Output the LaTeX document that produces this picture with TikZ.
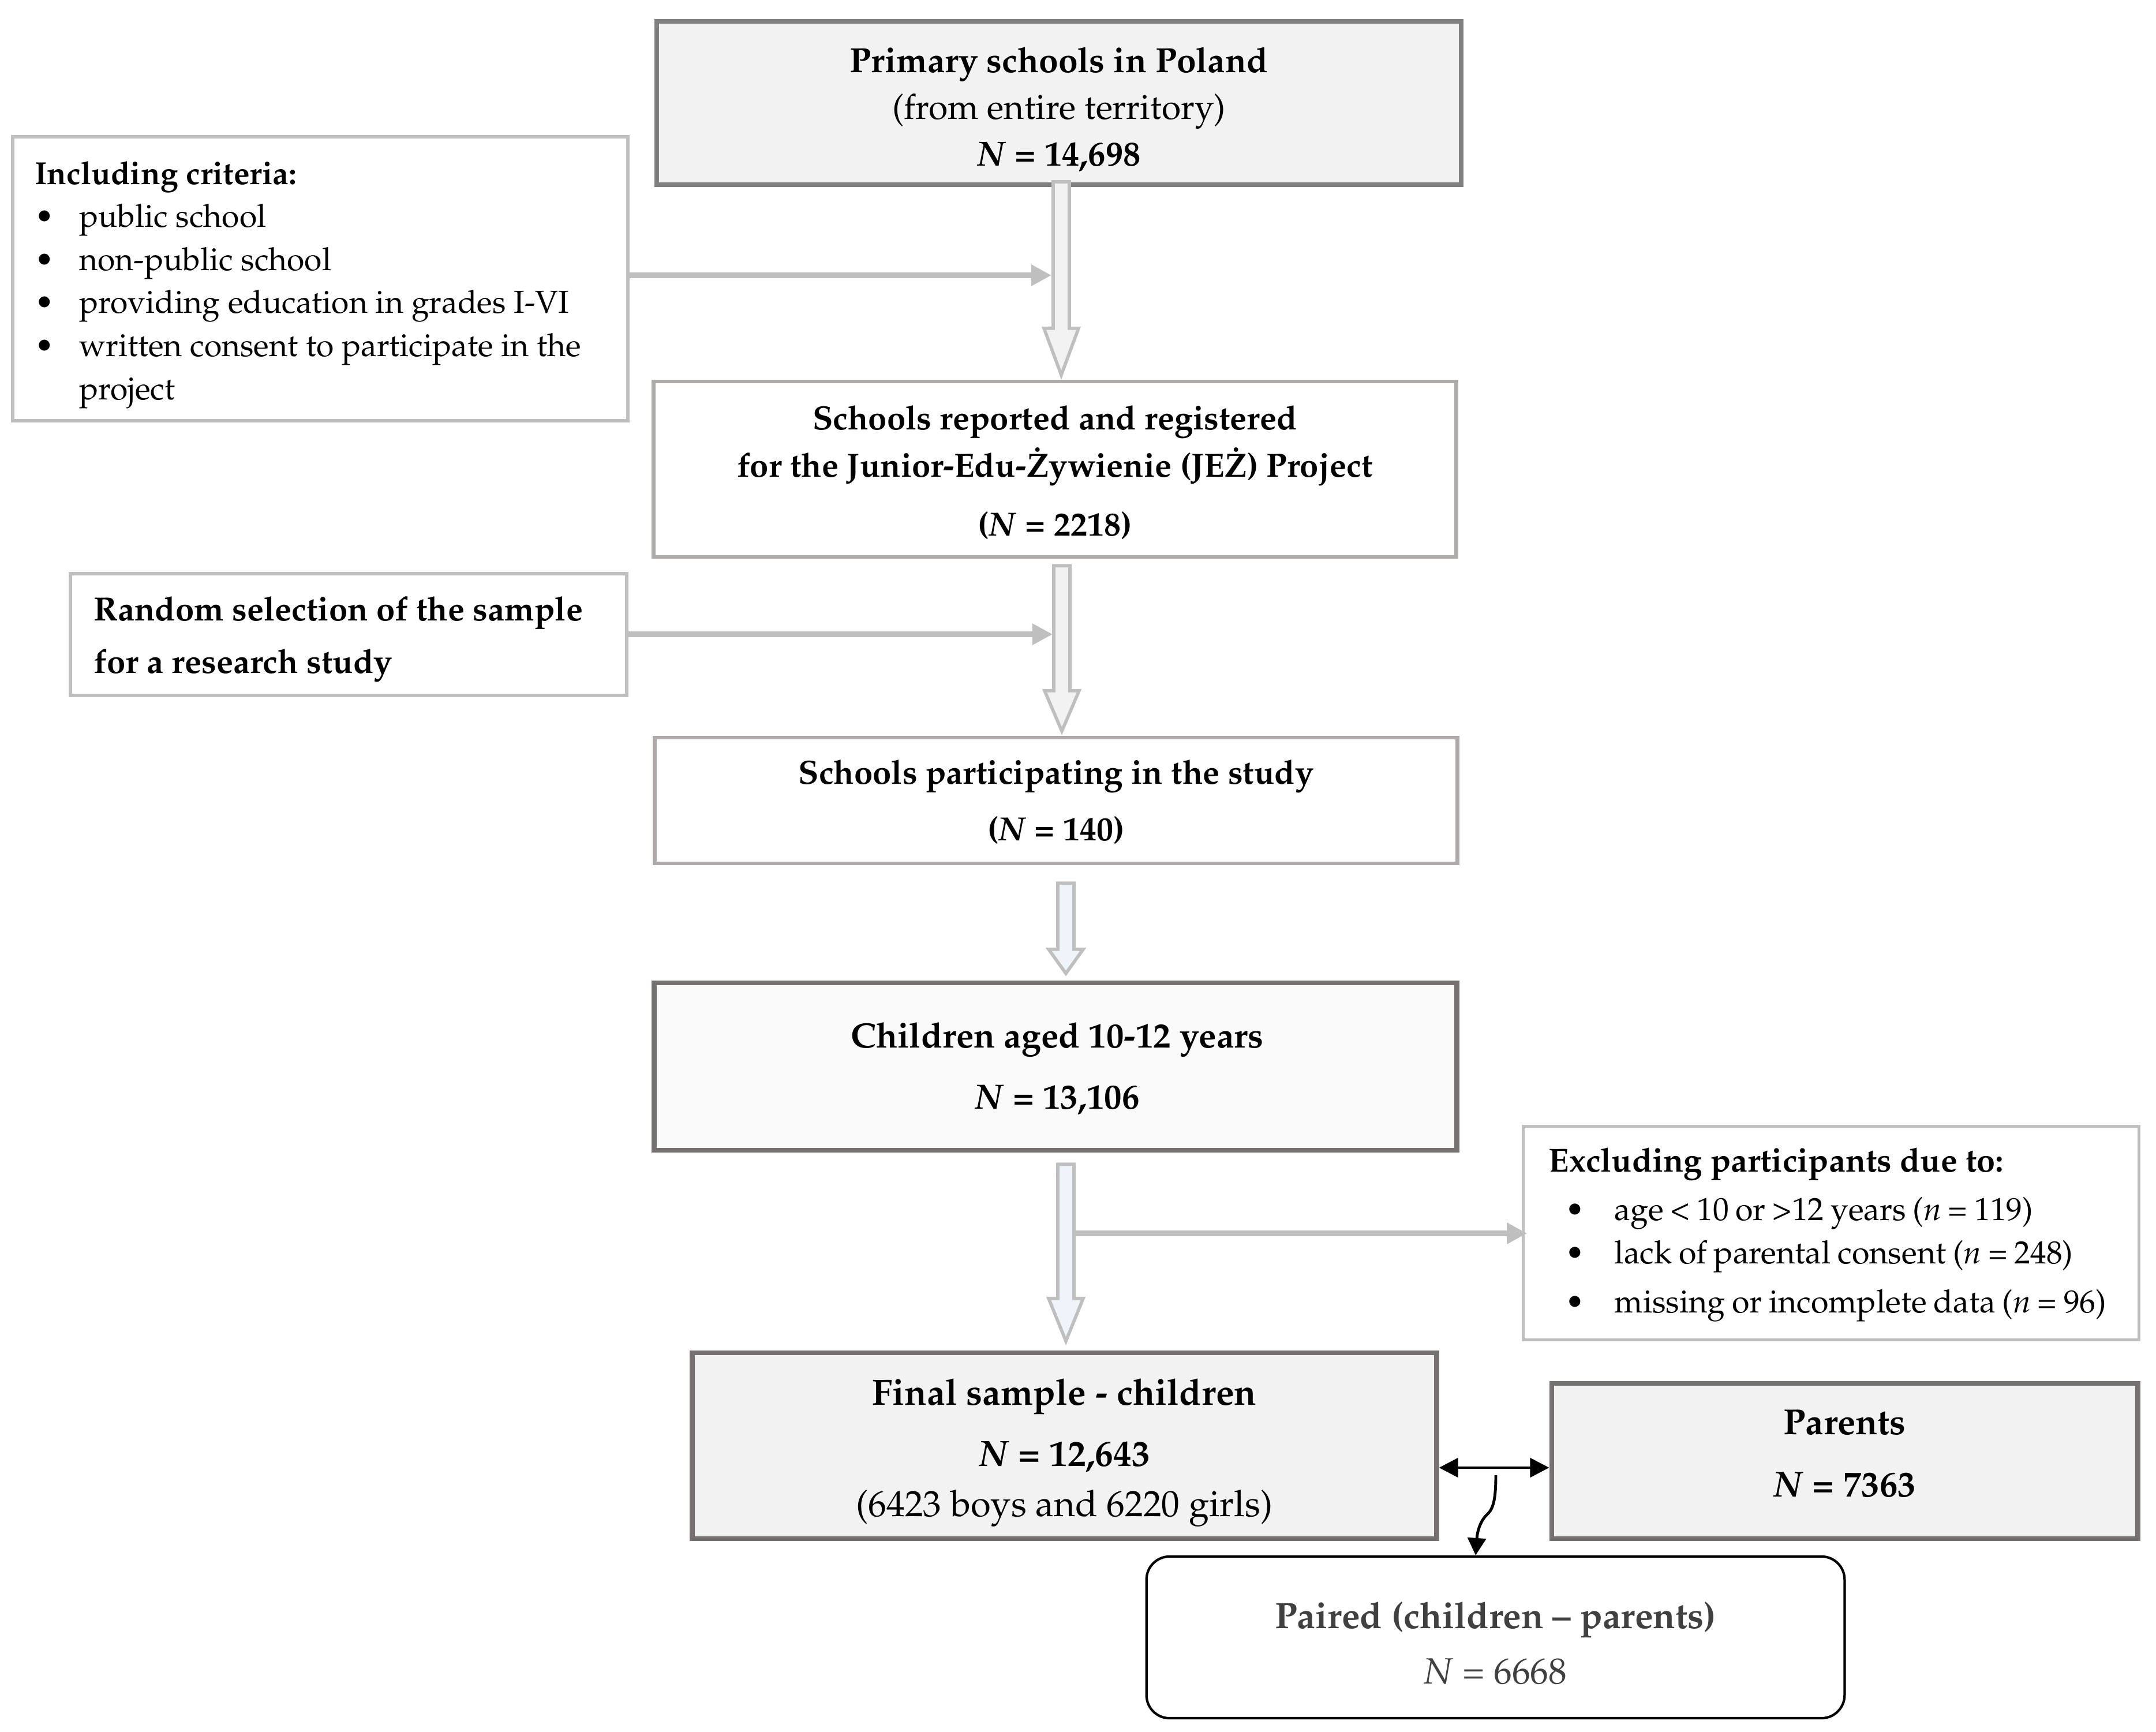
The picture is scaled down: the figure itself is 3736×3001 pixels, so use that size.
\documentclass[tikz,border=0pt]{standalone}
\usepackage[T1]{fontenc}
\usepackage{mathpazo}
\usetikzlibrary{arrows.meta,calc}
\definecolor{bA}{HTML}{808080}
\definecolor{bdark}{HTML}{767171}
\definecolor{bmid}{HTML}{AEAAAA}
\definecolor{blight}{HTML}{BFBFBF}
\definecolor{fillgray}{HTML}{F2F2F2}
\definecolor{fillpale}{HTML}{FAFAFA}
\definecolor{fillblue}{HTML}{EFF4FA}
\definecolor{txtgray}{HTML}{404040}
\newcommand\mybul{\makebox[7.7mm][l]{\textbullet}}
\newcommand\mybulE{\makebox[11.4mm][l]{\hspace{2.9mm}\textbullet}}
\newcommand\Zdot{\char"9B\relax}
\newcommand\harr[4]{%
  \draw[harrow, fill=#4] ($(#1)+(-14,0)$) -- ($(#2)+(-14,-#3)$) -- ($(#2)+(-30,-#3)$) -- (#2)
    -- ($(#2)+(30,-#3)$) -- ($(#2)+(14,-#3)$) -- ($(#1)+(14,0)$) -- cycle;}
\begin{document}
\begin{tikzpicture}[x=0.01cm,y=-0.01cm,
  every node/.style={inner sep=0pt, align=center, text=black},
  fs/.style 2 args={font=\fontsize{#1}{#2}\selectfont},
  darkbox/.style={rectangle, draw=bdark, line width=2.4pt, fill=fillgray},
  midbox/.style={rectangle, draw=bmid, line width=1.8pt, fill=white},
  lightbox/.style={rectangle, draw=blight, line width=1.7pt, fill=white},
  harrow/.style={draw=blight, line width=1.6pt, line join=miter},
  conn/.style={draw=blight, line width=2.85pt, -{Triangle[length=10pt,width=10pt]}},
  blk/.style={draw=black, line width=1.4pt}]
\useasboundingbox (0,0) rectangle (3736,3001);

% ---------- boxes ----------
\node[darkbox, draw=bA, line width=2.3pt, minimum width=139.4mm, minimum height=28.3mm] (A) at (1835,178.5) {};
\node[fs={17.2}{23pt}] (At) at ($(A.center)+(0,11)$)
  {\textbf{Primary schools in Poland}\\(from entire territory)\\\textbf{\textit{N} = 14,698}};

\node[lightbox, minimum width=106.6mm, minimum height=49.2mm] (Incl) at (555,483) {};
\node[fs={15.7}{21.2pt}, align=left, anchor=west] (Inclt) at ($(Incl.west)+(41,10.5)$)
  {\textbf{Including criteria:}\\
   \mybul public school\\
   \mybul non-public school\\
   \mybul providing education in grades I-VI\\
   \mybul written consent to participate in the\\
   \hspace*{7.7mm}project};

\node[midbox, minimum width=139mm, minimum height=30.4mm] (B) at (1828,813) {};
\node[fs={16.5}{23.4pt}] (Bt) at ($(B.center)+(0,5.5)$)
  {\textbf{Schools reported and registered}\\\textbf{for the Junior-Edu-\Zdot ywienie (JE\Zdot) Project}\\[5.5pt]\textbf{(\textit{N} = 2218)}};

\node[lightbox, minimum width=96.4mm, minimum height=21.1mm] (Rand) at (604,1099.5) {};
\node[fs={16.5}{25.9pt}, align=left, anchor=west] (Randt) at ($(Rand.west)+(43,8)$)
  {\textbf{Random selection of the sample}\\\textbf{for a research study}};

\node[midbox, minimum width=139mm, minimum height=21.8mm] (C) at (1830,1387) {};
\node[fs={16.5}{27.9pt}] (Ct) at ($(C.center)+(0,3)$)
  {\textbf{Schools participating in the study}\\\textbf{(\textit{N} = 140)}};

\node[darkbox, fill=fillpale, minimum width=139mm, minimum height=29mm] (D) at (1829,1848) {};
\node[fs={17.3}{30.2pt}] (Dt) at ($(D.center)+(3,3.5)$)
  {\textbf{Children aged 10-12 years}\\\textbf{\textit{N} = 13,106}};

\node[lightbox, line width=1.4pt, minimum width=106.6mm, minimum height=36.9mm] (E) at (3173,2136.5) {};
\node[fs={15.8}{21.3pt}, align=left, anchor=west] (Et) at ($(E.west)+(46,3)$)
  {{\fontsize{16.4}{21.3pt}\selectfont\textbf{Excluding participants due to:}}\\[2.6pt]
   \spaceskip=0.21em plus 0.05em\mybulE age < 10 or >12 years (\textit{n} = 119)\\
   \spaceskip=0.21em plus 0.05em\mybulE lack of parental consent (\textit{n} = 248)\\[3.1pt]
   \spaceskip=0.21em plus 0.05em\mybulE missing or incomplete data (\textit{n} = 96)};

\node[darkbox, minimum width=128.9mm, minimum height=32.2mm] (F) at (1844.5,2505) {};
\node[fs={18}{25pt}] (Ft) at ($(F.center)+(0,12.5)$)
  {\textbf{Final sample - children}\\[4.9pt]\textbf{\textit{N} = 12,643}\\(6423 boys and 6220 girls)};

\node[darkbox, minimum width=101.5mm, minimum height=26.9mm] (G) at (3196.5,2531.5) {};
\node[fs={17.8}{30.7pt}] (Gt) at ($(G.center)+(0,-12.5)$)
  {\textbf{Parents}\\\textbf{\textit{N} = 7363}};

\node[rectangle, draw=black, line width=1.2pt, rounded corners=4mm, fill=white,
  minimum width=120.9mm, minimum height=28mm] (H) at (2591.5,2837) {};
\node[fs={18}{27.3pt}, text=txtgray] (Ht) at ($(H.center)+(0,10)$)
  {\textbf{Paired (children -- parents)}\\\textit{N} = 6668};

% ---------- hollow arrows ----------
\coordinate (a1) at (1839,315);
\coordinate (a1tip) at ($(B.north -| a1)+(0,-8)$);
\harr{a1}{a1tip}{81}{fillgray}
\coordinate (a2x) at (1840,0);
\coordinate (a2) at ($(B.south -| a2x)+(0,12)$);
\coordinate (a2tip) at ($(C.north -| a2x)+(0,-8)$);
\harr{a2}{a2tip}{70}{fillgray}
\coordinate (a3x) at (1847,0);
\coordinate (a3) at ($(C.south -| a3x)+(0,31)$);
\coordinate (a3tip) at ($(D.north -| a3x)+(0,-12)$);
\harr{a3}{a3tip}{42}{fillblue}
\coordinate (a4x) at (1847,0);
\coordinate (a4) at ($(D.south -| a4x)+(0,20)$);
\coordinate (a4tip) at ($(F.north -| a4x)+(0,-16)$);
\harr{a4}{a4tip}{74}{fillblue}

% ---------- side connectors ----------
\coordinate (h1e) at (1822,477);
\draw[conn] (Incl.east |- h1e) -- (h1e);
\coordinate (h2e) at (1824,1099);
\draw[conn] (Rand.east |- h2e) -- (h2e);
\coordinate (h3s) at (1864,2137);
\draw[conn] (h3s) -- ($(E.west |- h3s)+(9,0)$);

% ---------- children - parents ----------
\coordinate (da) at (0,2543);
\draw[blk, {Triangle[length=9.4pt,width=9.4pt]}-{Triangle[length=9.4pt,width=9.4pt]}] (F.east |- da) -- (G.west |- da);
\coordinate (cs) at (2592,2556);
\coordinate (ctx) at (2557,0);
\draw[blk, -{Triangle[length=8.5pt,width=9pt]}] (cs) .. controls (2592,2600) and (2587,2615) .. (2577,2624)
  .. controls (2566,2634) and (2560,2652) .. (H.north -| ctx);
\end{tikzpicture}
\end{document}
